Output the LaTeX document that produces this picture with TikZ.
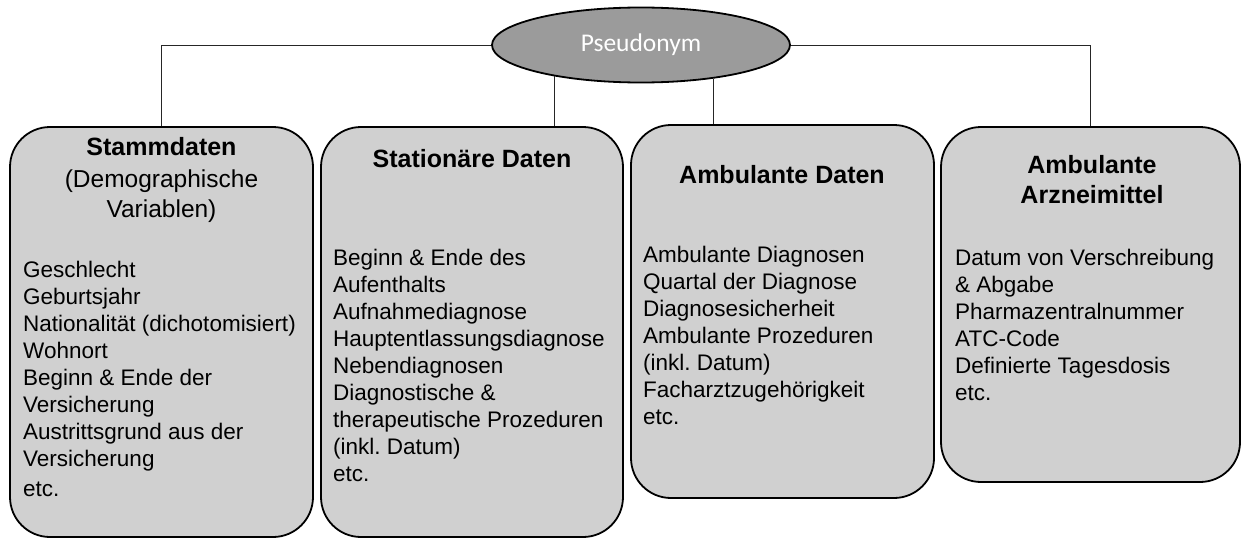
\documentclass[tikz,border=0pt]{standalone}
\usepackage{fontspec}
\setmainfont{Liberation Sans}
\newfontfamily\calib{Carlito}
\usetikzlibrary{shapes.geometric}
\definecolor{boxgray}{RGB}{208,208,208}
\definecolor{ellgray}{RGB}{155,155,155}
\frenchspacing
\begin{document}
\begin{tikzpicture}[x=1pt,y=-1pt,
  box/.style={draw=black, line width=1.8pt, fill=boxgray, rounded corners=40pt, inner sep=0pt},
  conn/.style={draw=black!85, line width=0.9pt},
  title/.style={font=\fontsize{25}{30.5}\selectfont\bfseries, anchor=base, inner sep=0pt},
  subt/.style={font=\fontsize{24.5}{30.5}\selectfont, anchor=base, inner sep=0pt},
  body/.style={font=\fontsize{22.5}{27}\selectfont\frenchspacing, align=left, anchor=north west, inner sep=0pt}]
\useasboundingbox (0,0) rectangle (1241,538);

\node[box, minimum width=303pt, minimum height=410pt] (b1) at (161.5,332) {};
\node[box, minimum width=302pt, minimum height=410pt] (b2) at (472,332) {};
\node[box, minimum width=303pt, minimum height=373pt] (b3) at (782.5,311.5) {};
\node[box, minimum width=299pt, minimum height=355pt] (b4) at (1090.5,304.5) {};

\node[ellipse, draw=black, line width=1.8pt, fill=ellgray, minimum width=298pt, minimum height=75pt,
  inner sep=0pt, text=white, font=\calib\fontsize{25.5}{30}\selectfont] (e) at (641,45) {Pseudonym};

\draw[conn] (e.west) -| (b1.north);
\draw[conn] (e.east) -| (b4.north);
\draw[conn] (e.200) -- (e.200 |- b2.north);
\draw[conn] (e.335) -- (e.335 |- b3.north);

% box 1
\node[title] (t1) at (161.5,155) {Stammdaten};
\node[subt] (s1a) at (161.5,187) {(Demographische};
\node[subt] (s1b) at (161.5,217) {Variablen)};
\node[body] (x1) at (23,258) {\strut Geschlecht\\Geburtsjahr\\Nationalität (dichotomisiert)\\Wohnort\\Beginn \& Ende der\\Versicherung\\Austrittsgrund aus der\\Versicherung\\[3pt]etc.};

% box 2
\node[title] (t2) at (472,167) {Stationäre Daten};
\node[body] (x2) at (333,246) {\strut Beginn \& Ende des\\Aufenthalts\\Aufnahmediagnose\\Hauptentlassungsdiagnose\\Nebendiagnosen\\Diagnostische \&\\therapeutische Prozeduren\\(inkl. Datum)\\etc.};

% box 3
\node[title] (t3) at (782,183) {Ambulante Daten};
\node[body] (x3) at (643,243) {\strut Ambulante Diagnosen\\Quartal der Diagnose\\Diagnosesicherheit\\Ambulante Prozeduren\\(inkl. Datum)\\Facharztzugehörigkeit\\etc.};

% box 4
\node[title] (t4a) at (1092,173) {Ambulante};
\node[title] (t4b) at (1092,203) {Arzneimittel};
\node[body] (x4) at (955,246) {\strut Datum von Verschreibung\\\& Abgabe\\Pharmazentralnummer\\ATC-Code\\Definierte Tagesdosis\\etc.};
\end{tikzpicture}
\end{document}
